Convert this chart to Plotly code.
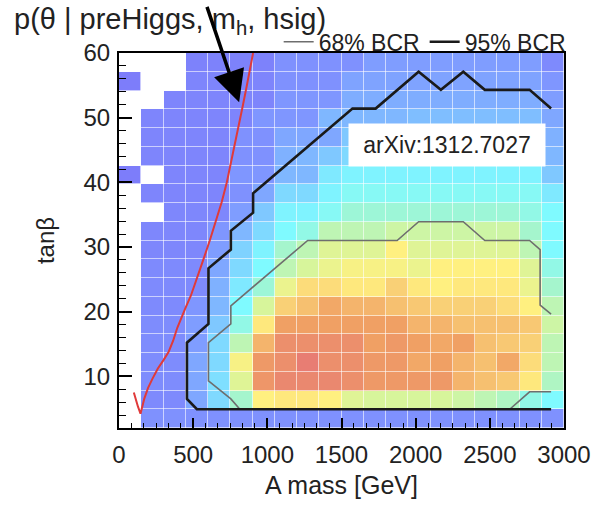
import plotly.graph_objects as go

N = None
# bin edges
mass_edges = [150 * i for i in range(21)]            # 0 .. 3000 GeV
tanb_edges = [round(2 + 2.9 * j, 2) for j in range(21)]  # 2 .. 60

# posterior density (relative), rows from bottom (tanb=2) to top (tanb=60)
density = [
    [N, .08, .08, .08, .08, .08, .08, .08, .08, .08, .08, .08, .08, .08, .08, .08, .08, .08, .08, .08],
    [N, .05, .05, .15, .30, .50, .70, .72, .72, .70, .62, .60, .60, .60, .60, .58, .55, .52, .45, .40],
    [N, .06, .06, .15, .32, .62, .93, .97, .97, .97, .95, .92, .92, .92, .92, .85, .82, .80, .72, .52],
    [N, .06, .06, .15, .30, .68, .92, .95, 1.0, .95, .95, .92, .92, .88, .90, .85, .82, .88, .75, .55],
    [N, .06, .06, .12, .30, .55, .85, .95, .95, .95, .95, .90, .92, .90, .88, .90, .82, .80, .78, .55],
    [N, .06, .06, .12, .25, .45, .72, .90, .90, .90, .90, .90, .90, .85, .85, .82, .82, .82, .80, .58],
    [N, .05, .05, .10, .20, .40, .60, .78, .82, .88, .85, .85, .82, .80, .78, .78, .78, .75, .70, .55],
    [N, .05, .05, .05, .18, .35, .48, .65, .75, .75, .72, .72, .78, .72, .70, .72, .72, .72, .65, .50],
    [N, .05, .05, .05, .15, .30, .40, .55, .60, .65, .68, .68, .68, .65, .70, .70, .70, .70, .62, .45],
    [N, .04, .04, .04, .12, .28, .38, .50, .55, .62, .62, .62, .70, .62, .62, .62, .62, .62, .55, .40],
    [N, .04, .04, .04, .10, .20, .30, .40, .45, .55, .55, .55, .58, .58, .58, .58, .58, .58, .50, .40],
    [N, N, .04, .04, .04, .12, .25, .38, .38, .42, .48, .48, .48, .48, .48, .48, .48, .48, .45, .40],
    [N, .03, .03, .03, .03, .08, .15, .30, .30, .38, .42, .42, .42, .42, .42, .42, .42, .42, .42, .35],
    [.0, N, .03, .03, .03, .10, .10, .20, .20, .35, .38, .38, .38, .38, .38, .38, .38, .38, .38, .25],
    [N, .03, .03, .03, .03, .08, .08, .18, .20, .25, .30, .30, .30, .30, .30, .30, .30, .30, .30, .20],
    [N, .03, .03, .03, .03, .08, .08, .15, .15, .15, .25, .25, .25, .25, .25, .25, .25, .25, .25, .18],
    [N, .03, .03, .03, .03, .03, .10, .10, .10, .20, .20, .20, .20, .22, .22, .22, .22, .22, .22, .15],
    [N, N, .03, .03, .03, .03, .03, .10, .10, .10, .17, .17, .17, .17, .17, .17, .17, .17, .17, .12],
    [0, N, N, .03, .03, .03, .03, .08, .08, .08, .14, .14, .14, .14, .14, .14, .14, .14, .14, .10],
    [N, N, N, .02, .02, .02, .02, .08, .08, .08, .08, .12, .12, .12, .12, .12, .12, .12, .12, .05],
]

# 95% BCR contour
bcr95_mass = [2913, 2768, 2466, 2321, 2170, 2020, 1730, 1574, 904, 904, 754, 754, 603, 603, 458, 458, 525, 2913]
bcr95_tanb = [51.4, 54.3, 54.3, 57.1, 54.3, 57.1, 51.4, 51.4, 38.3, 35.3, 32.5, 29.6, 26.7, 18.1, 15.2, 6.5, 4.9, 4.9]

# 68% BCR contour
bcr68_mass = [2913, 2839, 2839, 2768, 2466, 2321, 2020, 1875, 1272, 904, 754, 754, 603, 603, 754, 815, 2634, 2768, 2913]
bcr68_tanb = [19.6, 21.0, 29.6, 31.0, 31.0, 33.9, 33.9, 31.0, 31.0, 23.8, 20.9, 18.1, 15.2, 9.3, 6.5, 4.9, 4.9, 7.6, 7.6]

# red limit curve
limit_mass = [904, 885, 862, 836, 810, 784, 757, 727, 693, 655, 612, 568, 525, 485, 447, 418, 393, 365, 335, 300, 262, 225, 196, 170, 152, 145, 128, 112, 100]
limit_tanb = [60, 57.5, 55, 52, 49, 46, 43, 40, 37, 34, 31, 28, 25, 22.5, 20.5, 19, 17.5, 15.5, 13.8, 12.5, 11.2, 9.6, 8.2, 6.5, 5.0, 4.2, 5.3, 6.4, 7.5]

colorscale = [
    [0.00, "rgb(125,125,250)"],
    [0.10, "rgb(127,150,255)"],
    [0.25, "rgb(127,200,255)"],
    [0.40, "rgb(127,250,255)"],
    [0.50, "rgb(165,245,205)"],
    [0.60, "rgb(215,245,155)"],
    [0.70, "rgb(255,240,128)"],
    [0.80, "rgb(248,200,115)"],
    [0.90, "rgb(240,160,100)"],
    [1.00, "rgb(232,125,115)"],
]

fig = go.Figure()
fig.add_trace(go.Heatmap(
    x=mass_edges, y=tanb_edges, z=density,
    colorscale=colorscale, zmin=0, zmax=1, showscale=False,
    xgap=0.6, ygap=0.6, hoverongaps=False, showlegend=False,
))
fig.add_trace(go.Scatter(
    x=bcr68_mass, y=bcr68_tanb, mode="lines", name="68% BCR",
    line=dict(color="#6e6e6e", width=1.6), showlegend=True,
))
fig.add_trace(go.Scatter(
    x=bcr95_mass, y=bcr95_tanb, mode="lines", name="95% BCR",
    line=dict(color="#1a1a1a", width=2.6), showlegend=True,
))
fig.add_trace(go.Scatter(
    x=limit_mass, y=limit_tanb, mode="lines", name="limit",
    line=dict(color="#e03a3a", width=2), showlegend=False,
))

fig.add_annotation(
    x=810, y=52.4, ax=573, ay=68.5, xref="x", yref="y", axref="x", ayref="y",
    showarrow=True, arrowhead=2, arrowsize=1.8, arrowwidth=3.5, arrowcolor="black",
    text=" ",
)
fig.add_annotation(
    x=2208, y=45.75, xref="x", yref="y", text="arXiv:1312.7027", showarrow=False,
    font=dict(family="Liberation Sans", size=23, color="#222"),
    bgcolor="white", width=194, height=40,
)

axis_font = dict(family="Liberation Sans", size=24, color="#222")
fig.update_layout(
    width=603, height=507,
    margin=dict(l=119, r=36, t=53, b=71),
    paper_bgcolor="white", plot_bgcolor="white",
    title=dict(text="p(θ | preHiggs, m<sub>h</sub>, hsig)", x=14 / 603, xanchor="left",
               y=1 - 19 / 507, yanchor="middle",
               font=dict(family="Liberation Sans", size=29, color="#222")),
    legend=dict(orientation="h", x=1.015, xanchor="right", y=1.03, yanchor="middle",
                font=dict(family="Liberation Sans", size=23, color="#222"),
                bgcolor="rgba(0,0,0,0)", itemwidth=30, tracegroupgap=0),
    xaxis=dict(range=[0, 3000], tickvals=[0, 500, 1000, 1500, 2000, 2500, 3000],
               ticks="inside", ticklen=10, tickwidth=1.5, tickcolor="black",
               minor=dict(dtick=500 / 6, tick0=0, ticks="inside", ticklen=5, tickcolor="black", tickwidth=1.2),
               showline=True, linecolor="black", linewidth=2, mirror=True,
               showgrid=False, zeroline=False, tickfont=axis_font, ticklabelstandoff=4,
               title=dict(text="A mass [GeV]", standoff=10,
                          font=dict(family="Liberation Sans", size=25, color="#222"))),
    yaxis=dict(range=[2, 60], tickvals=[10, 20, 30, 40, 50, 60],
               ticks="inside", ticklen=13, tickwidth=1.5, tickcolor="black",
               minor=dict(dtick=2, tick0=0, ticks="inside", ticklen=7, tickcolor="black", tickwidth=1.2),
               showline=True, linecolor="black", linewidth=2, mirror=True,
               showgrid=False, zeroline=False, tickfont=axis_font, ticklabelstandoff=2,
               title=dict(text="tanβ", standoff=22,
                          font=dict(family="Liberation Sans", size=24, color="#222"))),
)

fig.write_html("out.html")
